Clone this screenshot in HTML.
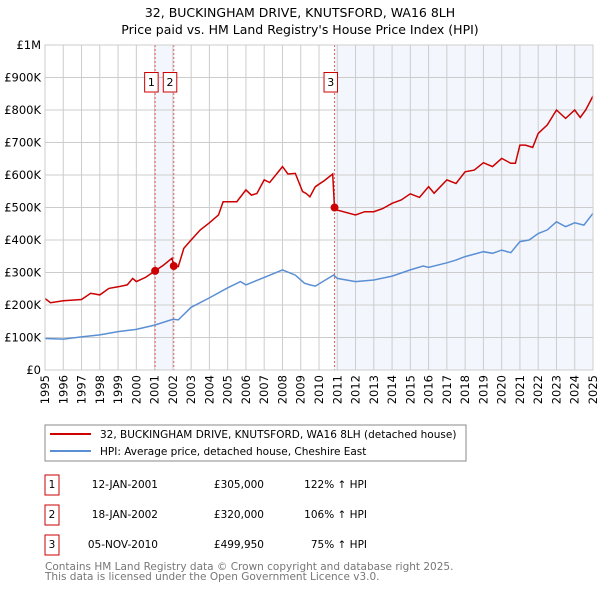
<!DOCTYPE html>
<html><head><meta charset="utf-8"><style>
body{margin:0;background:#fff;width:600px;height:590px;overflow:hidden;font-family:"DejaVu Sans","Liberation Sans",sans-serif}
svg text{font-family:"DejaVu Sans","Liberation Sans",sans-serif}
</style></head><body>
<svg id="c" width="600" height="590" xmlns="http://www.w3.org/2000/svg">
<text x="300" y="17" text-anchor="middle" font-size="12.5" fill="#000">32, BUCKINGHAM DRIVE, KNUTSFORD, WA16 8LH</text>
<text x="300" y="34" text-anchor="middle" font-size="12.5" fill="#000">Price paid vs. HM Land Registry's House Price Index (HPI)</text>
<g id="plot"></g>
<rect x="45" y="425" width="421" height="36" fill="#fff" stroke="#888"/>
<line x1="50" y1="434" x2="91" y2="434" stroke="#cc0000" stroke-width="2"/>
<text x="100" y="438" font-size="10.5">32, BUCKINGHAM DRIVE, KNUTSFORD, WA16 8LH (detached house)</text>
<line x1="50" y1="451" x2="91" y2="451" stroke="#5b8fd4" stroke-width="2"/>
<text x="100" y="455" font-size="10.5">HPI: Average price, detached house, Cheshire East</text>
<g font-size="10.5">
<rect x="45" y="475" width="14" height="20" fill="#fff" stroke="#cc0000"/><text x="52" y="488" text-anchor="middle">1</text>
<text x="158" y="488" text-anchor="end">12-JAN-2001</text><text x="264" y="488" text-anchor="end">£305,000</text><text x="367" y="488" text-anchor="end">122% ↑ HPI</text>
<rect x="45" y="505" width="14" height="20" fill="#fff" stroke="#cc0000"/><text x="52" y="518" text-anchor="middle">2</text>
<text x="158" y="518" text-anchor="end">18-JAN-2002</text><text x="264" y="518" text-anchor="end">£320,000</text><text x="367" y="518" text-anchor="end">106% ↑ HPI</text>
<rect x="45" y="535" width="14" height="20" fill="#fff" stroke="#cc0000"/><text x="52" y="548" text-anchor="middle">3</text>
<text x="158" y="548" text-anchor="end">05-NOV-2010</text><text x="264" y="548" text-anchor="end">£499,950</text><text x="367" y="548" text-anchor="end">75% ↑ HPI</text>
</g>
<text x="45" y="570" font-size="10.5" fill="#777">Contains HM Land Registry data © Crown copyright and database right 2025.</text>
<text x="45" y="580" font-size="10.5" fill="#777">This data is licensed under the Open Government Licence v3.0.</text>
</svg>
<script>
const yTicks=[0,100,200,300,400,500,600,700,800,900,1000];
const yTickLabels=["£0","£100K","£200K","£300K","£400K","£500K","£600K","£700K","£800K","£900K","£1M"];
const years=[1995,1996,1997,1998,1999,2000,2001,2002,2003,2004,2005,2006,2007,2008,2009,2010,2011,2012,2013,2014,2015,2016,2017,2018,2019,2020,2021,2022,2023,2024,2025];
const hpiT=[1995,1996,1997,1998,1999,2000,2001,2002,2002.3,2003,2004,2005,2005.7,2006,2007,2008,2008.7,2009.2,2009.5,2009.8,2010.5,2010.8,2011,2012,2013,2014,2015,2015.7,2016,2017,2017.5,2018,2019,2019.5,2020,2020.5,2021,2021.5,2022,2022.5,2023,2023.5,2024,2024.5,2025];
const hpiV=[97,95,102,108,118,125,138,156,154,193,222,253,272,262,285,308,292,267,262,258,282,292,282,272,277,289,308,320,316,330,338,349,364,359,369,361,395,400,420,431,456,441,453,446,482];
const priceT=[1995,1995.3,1996,1997,1997.5,1998,1998.5,1999,1999.5,1999.8,2000,2000.5,2001.03,2001.5,2001.95,2002.05,2002.3,2002.6,2003,2003.5,2004,2004.5,2004.75,2005.5,2006,2006.3,2006.6,2007,2007.3,2008,2008.3,2008.7,2009.1,2009.3,2009.5,2009.8,2010.3,2010.75,2010.85,2011,2012,2012.5,2013,2013.5,2014,2014.5,2015,2015.5,2016,2016.3,2017,2017.5,2018,2018.5,2019,2019.5,2020,2020.5,2020.75,2021,2021.3,2021.7,2022,2022.5,2023,2023.5,2024,2024.3,2024.6,2025];
const priceV=[220,207,213,217,236,231,251,256,262,282,272,285,305,323,344,320,318,374,400,431,453,477,518,518,554,538,543,585,577,626,603,605,549,543,533,564,583,603,500,492,477,487,487,497,513,523,542,531,564,544,585,574,610,615,638,626,651,636,636,692,692,685,728,754,800,774,800,777,800,843];
const saleT=[2001.03,2002.05,2010.85];
const saleV=[305,320,499.95];
const saleLabels=["1","2","3"];
const NS="http://www.w3.org/2000/svg";
const L=45,R=593,T=45,B=370;
const X=t=>L+(t-1995)/(2025-1995)*(R-L);
const Y=v=>B-v/1000*(B-T);
const g=document.getElementById('plot');
function mk(tag,at,parent){const e=document.createElementNS(NS,tag);for(const k in at)e.setAttribute(k,at[k]);(parent||g).appendChild(e);return e;}
let e=mk('rect',{x:X(saleT[0]),y:T,width:X(saleT[1])-X(saleT[0]),height:B-T,fill:'#eef3fc',opacity:0.7});


e=mk('rect',{x:X(saleT[2]),y:T,width:R-X(saleT[2]),height:B-T,fill:'#eef3fc',opacity:0.7});


yTicks.forEach((v,i)=>{
 let l=mk('line',{x1:L,x2:R,y1:Y(v),y2:Y(v),stroke:'#ccc'});
 
 
 let t=mk('text',{x:L-4,y:Y(v)+4,'text-anchor':'end','font-size':'11.5'});t.textContent=yTickLabels[i];
 
 
});
years.forEach(yr=>{
 let l=mk('line',{x1:X(yr),x2:X(yr),y1:T,y2:B,stroke:'#ccc'});
 
 
 let gr=mk('g',{transform:`translate(${(X(yr)+4).toFixed(1)},${B+5}) rotate(-90)`});
 let t=mk('text',{x:0,y:0,'font-size':'11.5','text-anchor':'end'},gr);t.textContent=yr;
 
 
});
saleT.forEach((t,i)=>{
 let l=mk('line',{x1:X(t),x2:X(t),y1:T,y2:B,stroke:'#e06060','stroke-dasharray':'2,2'});
 
 
});
const pts=(ts,vs)=>ts.map((t,i)=>X(t).toFixed(1)+','+Y(vs[i]).toFixed(1)).join(' ');
e=mk('polyline',{points:pts(hpiT,hpiV),fill:'none',stroke:'#5b8fd4','stroke-width':1.5});


e=mk('polyline',{points:pts(priceT,priceV),fill:'none',stroke:'#cc0000','stroke-width':1.5});


saleT.forEach((t,i)=>{
 let c=mk('circle',{cx:X(t),cy:Y(saleV[i]),r:4,fill:'#cc0000'});
 
 
 const bx=X(t)-10.5;
 let r=mk('rect',{x:bx,y:72.5,width:13.5,height:19.5,fill:'#fff',stroke:'#cc0000'});
 
 
 let tx=mk('text',{x:bx+6.75,y:86,'text-anchor':'middle','font-size':'11'});tx.textContent=saleLabels[i];
 
 
});
e=mk('rect',{x:L,y:T,width:R-L,height:B-T,fill:'none',stroke:'#ccc'});


</script>
</body></html>
